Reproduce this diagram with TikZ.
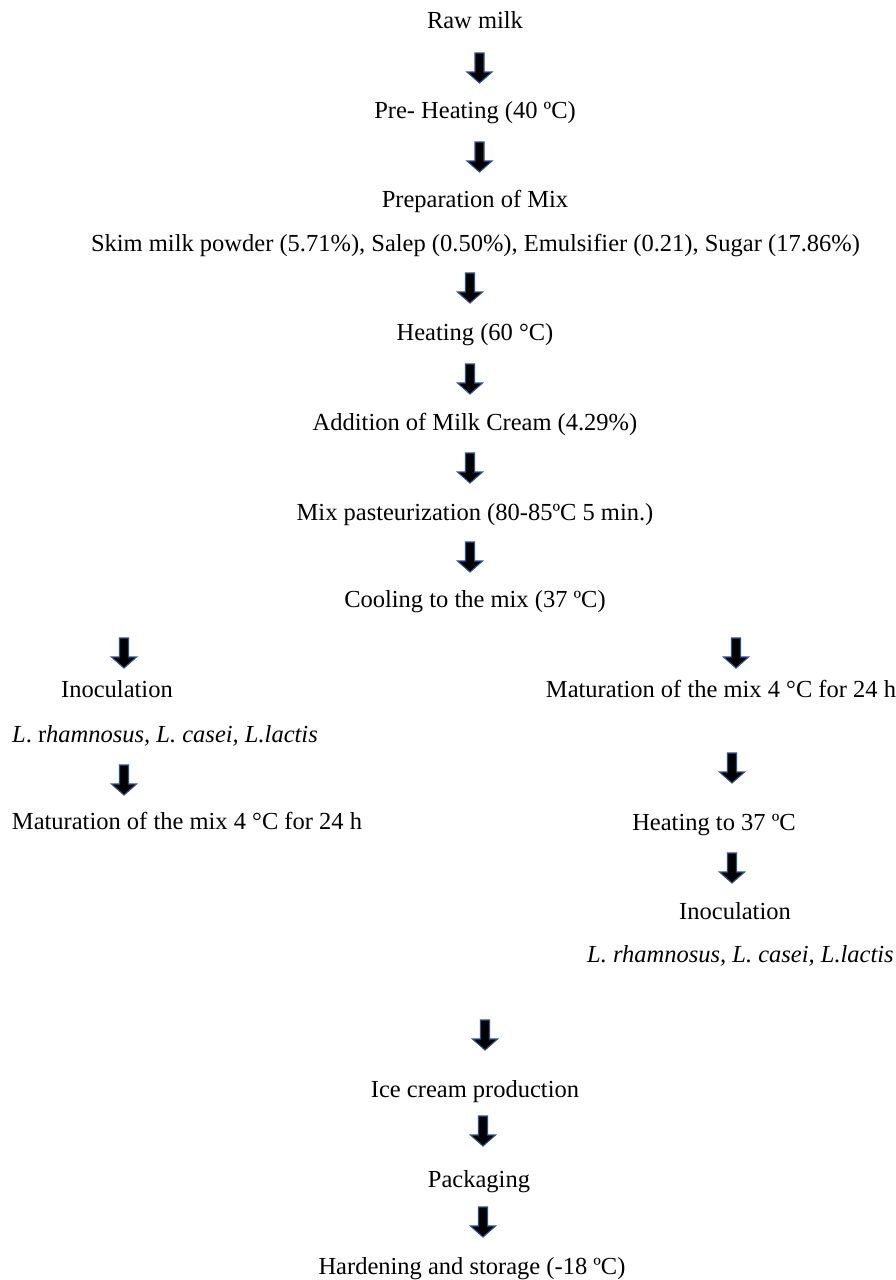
\documentclass[tikz,border=0pt]{standalone}
\usepackage{fontspec}
\setmainfont{Liberation Serif}
\definecolor{arrowedge}{HTML}{2F528F}
\tikzset{
  lbl/.style={anchor=base, inner sep=0pt, font=\fontsize{24.5}{28}\selectfont},
  barrow/.pic={
    \filldraw[fill=black, draw=arrowedge, line width=1.1pt, line join=miter]
      (-4.5,0) -- (4.5,0) -- (4.5,19) -- (12.5,19) -- (0,30) -- (-12.5,19) -- (-4.5,19) -- cycle;
  }
}
\begin{document}
\begin{tikzpicture}[x=1pt, y=-1pt]
\useasboundingbox (0,0) rectangle (896,1280);
% central chain
\node[lbl] (raw) at (475,28) {Raw milk};
\node[lbl] (pre) at (475,118) {Pre- Heating (40 ºC)};
\node[lbl] (prep) at (475,207) {Preparation of Mix};
\node[lbl] (skim) at (475.5,251) {Skim milk powder (5.71\%), Salep (0.50\%), Emulsifier (0.21), Sugar (17.86\%)};
\node[lbl] (heat) at (475,340) {Heating (60 °C)};
\node[lbl] (add) at (475,430) {Addition of Milk Cream (4.29\%)};
\node[lbl] (past) at (475,520) {Mix pasteurization (80-85ºC 5 min.)};
\node[lbl] (cool) at (475,607) {Cooling to the mix (37 ºC)};
% left branch
\node[lbl] (inocL) at (117,697) {Inoculation};
\node[lbl] (bactL) at (165,742) {\textit{L}. r\textit{hamnosus, L. casei, L.lactis}};
\node[lbl] (matL) at (187,829) {Maturation of the mix 4 °C for 24 h};
% right branch
\node[lbl] (matR) at (721,697) {Maturation of the mix 4 °C for 24 h};
\node[lbl] (heatR) at (714,830) {Heating to 37 ºC};
\node[lbl] (inocR) at (735,919) {Inoculation};
\node[lbl] (bactR) at (740.5,962) {\textit{L. rhamnosus, L. casei, L.lactis}};
% bottom
\node[lbl] (ice) at (475,1097) {Ice cream production};
\node[lbl] (pack) at (479,1187) {Packaging};
\node[lbl] (hard) at (472,1274) {Hardening and storage (-18 ºC)};
% block arrows
\pic at (479.5,53) {barrow};
\pic at (479.5,142) {barrow};
\pic at (470,273) {barrow};
\pic at (470,364) {barrow};
\pic at (470,453) {barrow};
\pic at (470,542) {barrow};
\pic at (124,638) {barrow};
\pic at (736,638) {barrow};
\pic at (124,765) {barrow};
\pic at (732,753) {barrow};
\pic at (732,853) {barrow};
\pic at (485,1020) {barrow};
\pic at (483,1116) {barrow};
\pic at (483,1207) {barrow};
\end{tikzpicture}
\end{document}
